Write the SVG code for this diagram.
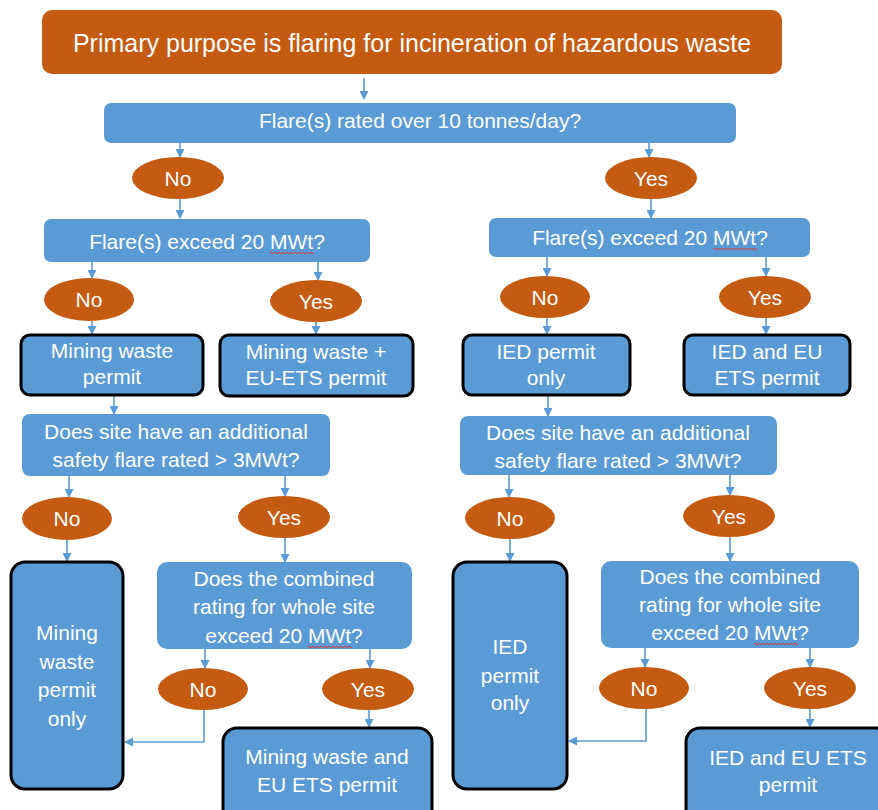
<svg xmlns="http://www.w3.org/2000/svg" width="878" height="810" viewBox="0 0 878 810">
<defs>
<style>
.box{fill:#5B9BD5;}
.term{fill:#5B9BD5;stroke:#000;stroke-width:3;}
.oval{fill:#C55A11;}
.top{fill:#C55A11;}
text{font-family:"Liberation Sans",Arial,sans-serif;fill:#fff;text-anchor:middle;font-size:21px;}
.big{font-size:25px;}
.conn{fill:none;stroke:#5B9BD5;stroke-width:1.6;marker-end:url(#ah);}
.wavy{fill:none;stroke:#E0383B;stroke-width:1;}
</style>
<marker id="ah" markerWidth="9" markerHeight="9" refX="8" refY="4.5" orient="auto" markerUnits="userSpaceOnUse">
<path d="M0,0 L9,4.5 L0,9 z" fill="#5B9BD5"/>
</marker>
</defs>
<rect width="878" height="810" fill="#fff"/>

<g id="connectors">
<path class="conn" d="M364,78 V99"/>
<path class="conn" d="M180,143 V157"/>
<path class="conn" d="M180,199 V218"/>
<path class="conn" d="M649,143 V157"/>
<path class="conn" d="M651,199 V218"/>
<path class="conn" d="M92,262 V278"/>
<path class="conn" d="M92,321 V334"/>
<path class="conn" d="M318,262 V280"/>
<path class="conn" d="M316,322 V334"/>
<path class="conn" d="M547,257 V276"/>
<path class="conn" d="M547,318 V334"/>
<path class="conn" d="M766,257 V276"/>
<path class="conn" d="M766,318 V334"/>
<path class="conn" d="M114,396 V414"/>
<path class="conn" d="M548,396 V416"/>
<path class="conn" d="M69,476 V497"/>
<path class="conn" d="M285,476 V496"/>
<path class="conn" d="M509,475 V497"/>
<path class="conn" d="M730,475 V495"/>
<path class="conn" d="M67,540 V561"/>
<path class="conn" d="M285,538 V562"/>
<path class="conn" d="M510,539 V561"/>
<path class="conn" d="M730,537 V561"/>
<path class="conn" d="M205,649 V668"/>
<path class="conn" d="M370,649 V668"/>
<path class="conn" d="M645,648 V667"/>
<path class="conn" d="M810,648 V667"/>
<path class="conn" d="M204,710 V742 H125"/>
<path class="conn" d="M369,710 V727"/>
<path class="conn" d="M646,709 V741 H569"/>
<path class="conn" d="M810,709 V727"/>
</g>

<g id="n-start">
<rect class="top" x="42" y="10" width="740" height="64" rx="10"/>
<text class="big" x="412" y="52">Primary purpose is flaring for incineration of hazardous waste</text>
</g>
<g id="n-q1">
<rect class="box" x="104" y="103" width="632" height="40" rx="7"/>
<text x="420" y="128">Flare(s) rated over 10 tonnes/day?</text>
</g>
<g id="n-no1"><ellipse class="oval" cx="178" cy="178" rx="46" ry="21"/><text x="178" y="185.5">No</text></g>
<g id="n-yes1"><ellipse class="oval" cx="651" cy="178" rx="46" ry="21"/><text x="651" y="185.5">Yes</text></g>

<g id="n-q2l">
<rect class="box" x="44" y="219" width="326" height="43" rx="7"/>
<text x="207" y="249">Flare(s) exceed 20 MWt?</text>
<path class="wavy" d="M270,253 q1,-2 2,0 t2,0 t2,0 t2,0 t2,0 t2,0 t2,0 t2,0 t2,0 t2,0 t2,0 t2,0 t2,0 t2,0 t2,0 t2,0 t2,0 t2,0 t2,0 t2,0 t2,0 t2,0"/>
</g>
<g id="n-q2r">
<rect class="box" x="489" y="218" width="321" height="39" rx="7"/>
<text x="650" y="245">Flare(s) exceed 20 MWt?</text>
<path class="wavy" d="M713,249 q1,-2 2,0 t2,0 t2,0 t2,0 t2,0 t2,0 t2,0 t2,0 t2,0 t2,0 t2,0 t2,0 t2,0 t2,0 t2,0 t2,0 t2,0 t2,0 t2,0 t2,0 t2,0 t2,0"/>
</g>

<g id="n-no2"><ellipse class="oval" cx="89" cy="299.5" rx="45" ry="21.5"/><text x="89" y="307">No</text></g>
<g id="n-yes2"><ellipse class="oval" cx="316" cy="301" rx="46" ry="21"/><text x="316" y="308.5">Yes</text></g>
<g id="n-no3"><ellipse class="oval" cx="545" cy="297" rx="45" ry="21"/><text x="545" y="304.5">No</text></g>
<g id="n-yes3"><ellipse class="oval" cx="765" cy="297" rx="46" ry="21"/><text x="765" y="304.5">Yes</text></g>

<g id="n-mw">
<rect class="term" x="21" y="335" width="182" height="60" rx="9"/>
<text x="112" y="358">Mining waste</text>
<text x="112" y="384">permit</text>
</g>
<g id="n-mwets">
<rect class="term" x="220" y="335" width="193" height="61" rx="9"/>
<text x="316" y="359">Mining waste +</text>
<text x="316" y="385">EU-ETS permit</text>
</g>
<g id="n-ied">
<rect class="term" x="463" y="335" width="167" height="60" rx="9"/>
<text x="546" y="359">IED permit</text>
<text x="546" y="385">only</text>
</g>
<g id="n-iedets">
<rect class="term" x="684" y="335" width="166" height="60" rx="9"/>
<text x="767" y="359">IED and EU</text>
<text x="767" y="385">ETS permit</text>
</g>

<g id="n-q3l">
<rect class="box" x="22" y="414" width="308" height="62" rx="8"/>
<text x="176" y="439">Does site have an additional</text>
<text x="176" y="467">safety flare rated &gt; 3MWt?</text>
</g>
<g id="n-q3r">
<rect class="box" x="460" y="416" width="317" height="59" rx="8"/>
<text x="618" y="440">Does site have an additional</text>
<text x="618" y="468">safety flare rated &gt; 3MWt?</text>
</g>

<g id="n-no4"><ellipse class="oval" cx="67" cy="518.5" rx="45" ry="21.5"/><text x="67" y="526">No</text></g>
<g id="n-yes4"><ellipse class="oval" cx="284" cy="517" rx="46" ry="21"/><text x="284" y="524.5">Yes</text></g>
<g id="n-no5"><ellipse class="oval" cx="510" cy="518" rx="45" ry="21"/><text x="510" y="525.5">No</text></g>
<g id="n-yes5"><ellipse class="oval" cx="729" cy="516" rx="46" ry="21"/><text x="729" y="523.5">Yes</text></g>

<g id="n-mwonly">
<rect class="term" x="11" y="562" width="112" height="227" rx="14"/>
<text x="67" y="640">Mining</text>
<text x="67" y="669">waste</text>
<text x="67" y="697">permit</text>
<text x="67" y="726">only</text>
</g>
<g id="n-q4l">
<rect class="box" x="157" y="562" width="255" height="87" rx="10"/>
<text x="284" y="586">Does the combined</text>
<text x="284" y="614">rating for whole site</text>
<text x="284" y="643">exceed 20 MWt?</text>
<path class="wavy" d="M308,647 q1,-2 2,0 t2,0 t2,0 t2,0 t2,0 t2,0 t2,0 t2,0 t2,0 t2,0 t2,0 t2,0 t2,0 t2,0 t2,0 t2,0 t2,0 t2,0 t2,0 t2,0 t2,0 t2,0"/>
</g>
<g id="n-iedonly">
<rect class="term" x="453" y="562" width="114" height="227" rx="14"/>
<text x="510" y="654">IED</text>
<text x="510" y="683">permit</text>
<text x="510" y="710">only</text>
</g>
<g id="n-q4r">
<rect class="box" x="601" y="561" width="258" height="87" rx="10"/>
<text x="730" y="584">Does the combined</text>
<text x="730" y="612">rating for whole site</text>
<text x="730" y="640">exceed 20 MWt?</text>
<path class="wavy" d="M754,644 q1,-2 2,0 t2,0 t2,0 t2,0 t2,0 t2,0 t2,0 t2,0 t2,0 t2,0 t2,0 t2,0 t2,0 t2,0 t2,0 t2,0 t2,0 t2,0 t2,0 t2,0 t2,0 t2,0"/>
</g>

<g id="n-no6"><ellipse class="oval" cx="203" cy="689" rx="45" ry="21"/><text x="203" y="696.5">No</text></g>
<g id="n-yes6"><ellipse class="oval" cx="368" cy="689" rx="46" ry="21"/><text x="368" y="696.5">Yes</text></g>
<g id="n-no7"><ellipse class="oval" cx="644" cy="688" rx="45" ry="21"/><text x="644" y="695.5">No</text></g>
<g id="n-yes7"><ellipse class="oval" cx="810" cy="688" rx="46" ry="21"/><text x="810" y="695.5">Yes</text></g>

<g id="n-mwetsfinal">
<rect class="term" x="223" y="728" width="209" height="100" rx="14"/>
<text x="327" y="764">Mining waste and</text>
<text x="327" y="792">EU ETS permit</text>
</g>
<g id="n-iedetsfinal">
<rect class="term" x="686" y="728" width="204" height="100" rx="14"/>
<text x="788" y="765">IED and EU ETS</text>
<text x="788" y="792">permit</text>
</g>
</svg>
